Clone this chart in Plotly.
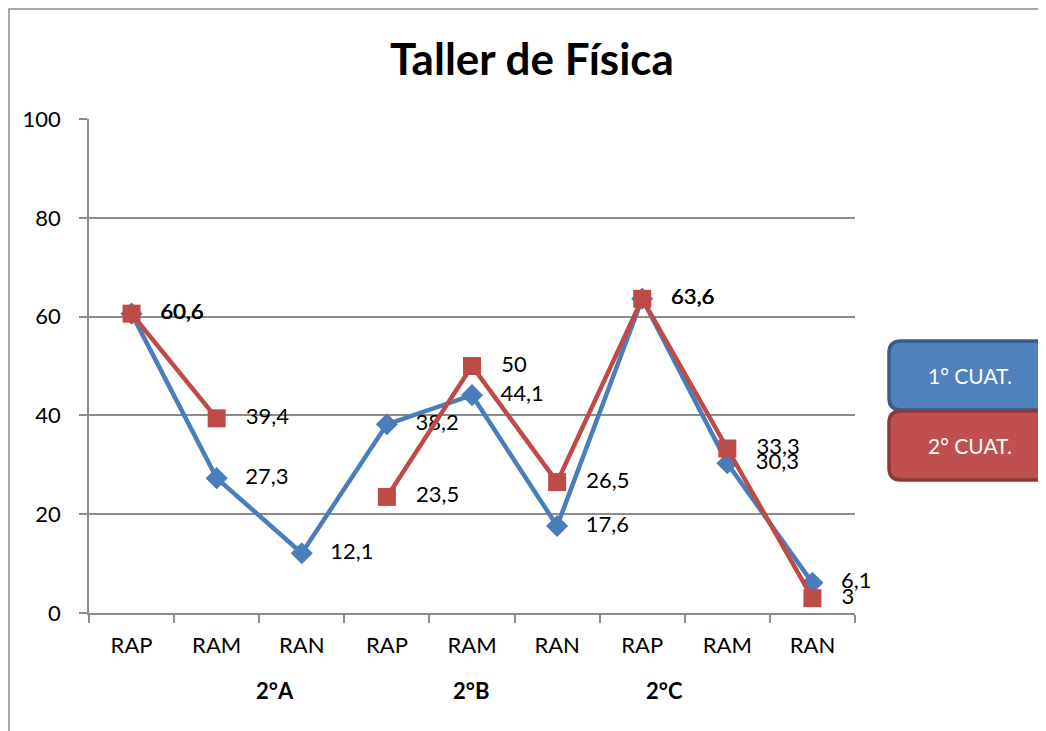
import plotly.graph_objects as go

categories = ['RAP', 'RAM', 'RAN', 'RAP', 'RAM', 'RAN', 'RAP', 'RAM', 'RAN']
groups = ['2°A', '2°B', '2°C']
group_pos = [1.68, 3.99, 6.26]
cuat1 = [60.6, 27.3, 12.1, 38.2, 44.1, 17.6, 63.6, 30.3, 6.1]
cuat2 = [60.6, 39.4, None, 23.5, 50, 26.5, 63.6, 33.3, 3]
series_names = ['1° CUAT.', '2° CUAT.']

colors = {
    'blue': '#4A7EBB',
    'red': '#BE4B48',
    'grid': '#8C8C8C',
    'text': '#000000'
}
FONT = 'Lato, Open Sans, sans-serif'

# page body has an 8px margin, so work in screen pixels minus that offset
OFF = 8
W, H = 1046 - OFF, 731 - OFF
L, R, T, B = 89 - OFF, 855 - OFF, 119 - OFF, 613 - OFF


def px_x(p):
    return (p - OFF - L) / (R - L)


def px_y(p):
    return (B - (p - OFF)) / (B - T)


def label(v):
    if v is None:
        return ''
    return '   ' + ('%g' % v).replace('.', ',')


def rounded_box(x0, y0, x1, y1, r):
    # rounded rectangle path in paper coords, given screen pixel corners
    pts = []
    pts.append('M %f,%f' % (px_x(x0 + r), px_y(y0)))
    pts.append('L %f,%f' % (px_x(x1 - r), px_y(y0)))
    pts.append('Q %f,%f %f,%f' % (px_x(x1), px_y(y0), px_x(x1), px_y(y0 + r)))
    pts.append('L %f,%f' % (px_x(x1), px_y(y1 - r)))
    pts.append('Q %f,%f %f,%f' % (px_x(x1), px_y(y1), px_x(x1 - r), px_y(y1)))
    pts.append('L %f,%f' % (px_x(x0 + r), px_y(y1)))
    pts.append('Q %f,%f %f,%f' % (px_x(x0), px_y(y1), px_x(x0), px_y(y1 - r)))
    pts.append('L %f,%f' % (px_x(x0), px_y(y0 + r)))
    pts.append('Q %f,%f %f,%f' % (px_x(x0), px_y(y0), px_x(x0 + r), px_y(y0)))
    return ' '.join(pts) + ' Z'


xs = list(range(len(categories)))

fig = go.Figure()
fig.add_trace(go.Scatter(
    x=xs, y=cuat1, name=series_names[0],
    mode='lines+markers+text',
    line=dict(color=colors['blue'], width=4.5),
    marker=dict(symbol='diamond', size=17, color=colors['blue']),
    text=[label(v) for v in cuat1],
    textposition='middle right',
    textfont=dict(family=FONT, size=22, color=colors['text']),
    cliponaxis=False))
fig.add_trace(go.Scatter(
    x=xs, y=cuat2, name=series_names[1],
    mode='lines+markers+text',
    connectgaps=False,
    line=dict(color=colors['red'], width=4.5),
    marker=dict(symbol='square', size=18, color=colors['red']),
    text=[label(v) for v in cuat2],
    textposition='middle right',
    textfont=dict(family=FONT, size=22, color=colors['text']),
    cliponaxis=False))

fig.update_layout(
    width=W, height=H,
    margin=dict(l=L, r=W - R, t=T, b=H - B),
    plot_bgcolor='#ffffff',
    paper_bgcolor='#ffffff',
    font=dict(family=FONT, size=22, color=colors['text']),
    showlegend=False,
    title=dict(text='<b>Taller de Física</b>', x=(532 - OFF) / W,
               xanchor='center', y=1 - (60 - OFF) / H, yanchor='middle',
               font=dict(family=FONT, size=44, color=colors['text'])))

fig.update_yaxes(
    range=[0, 100], dtick=20,
    showline=True, linewidth=1.5, linecolor=colors['grid'],
    gridcolor=colors['grid'], gridwidth=1.5,
    ticks='outside', ticklen=8, tickwidth=1.5, tickcolor=colors['grid'],
    ticklabelstandoff=14,
    zeroline=False, tickfont=dict(size=22))
fig.update_xaxes(
    range=[-0.5, len(categories) - 0.5],
    tickvals=xs, ticktext=categories, ticks='',
    showline=True, linewidth=1.5, linecolor=colors['grid'],
    showgrid=False, zeroline=False, tickfont=dict(size=22),
    ticklabelstandoff=12,
    minor=dict(tickvals=[i - 0.5 for i in range(len(categories) + 1)],
               ticks='outside', ticklen=8, tickwidth=1.5, tickcolor=colors['grid'],
               showgrid=False))

for g, gx in zip(groups, group_pos):
    fig.add_annotation(x=gx, y=px_y(690), xref='x', yref='paper',
                       text='<b>%s</b>' % g, showarrow=False,
                       xanchor='center', yanchor='middle',
                       font=dict(family=FONT, size=22, color=colors['text']))

# outer chart border
fig.add_shape(type='rect', xref='paper', yref='paper',
              x0=px_x(9), y0=px_y(760), x1=px_x(1070), y1=px_y(9),
              line=dict(color='#8C8C8C', width=1.5))

# legend boxes
boxes = [(341, 410, '#4F81BD', '#385D8A'), (411, 480, '#C0504D', '#8C3836')]
for (y0, y1, fill, edge), name in zip(boxes, series_names):
    fig.add_shape(type='path', xref='paper', yref='paper',
                  path=rounded_box(889, y0, 1060, y1, 12),
                  fillcolor=fill, line=dict(color=edge, width=3.5))
    fig.add_annotation(x=px_x(970), y=px_y((y0 + y1) / 2), xref='paper', yref='paper',
                       text=name, showarrow=False,
                       xanchor='center', yanchor='middle',
                       font=dict(family=FONT, size=21, color='#ffffff'))

fig.write_html("out.html")
